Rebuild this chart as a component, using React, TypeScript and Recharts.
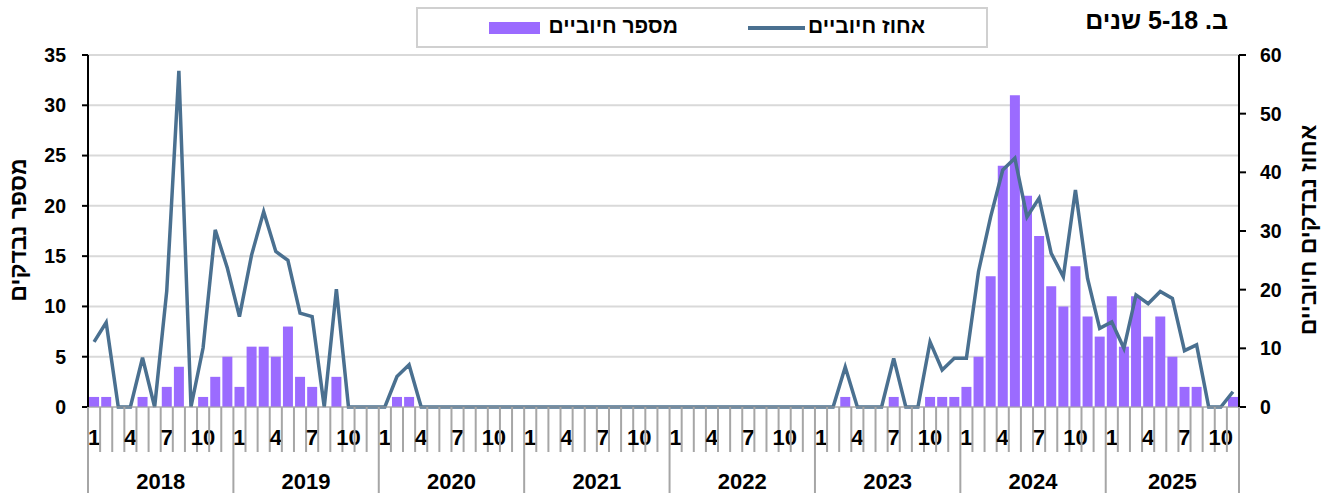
import { ComposedChart, Bar, Line, XAxis, YAxis, CartesianGrid } from 'recharts';

const W = 1326;
const H = 493;
const LEFT_W = 88;
const RIGHT_W = 87;
const X_H = 86;
const TOP = 55;
const FONT = '"Liberation Sans", Arial, sans-serif';

const years = [2018, 2019, 2020, 2021, 2022, 2023, 2024, 2025];
const monthsInYear = [12, 12, 12, 12, 12, 12, 12, 11];
const labelledMonths = [1, 4, 7, 10];

// number of positives per month, Jan 2018 .. Nov 2025
const positiveCounts = [
  1, 1, 0, 0, 1, 0, 2, 4, 0, 1, 3, 5, // 2018
  2, 6, 6, 5, 8, 3, 2, 0, 3, 0, 0, 0, // 2019
  0, 1, 1, 0, 0, 0, 0, 0, 0, 0, 0, 0, // 2020
  0, 0, 0, 0, 0, 0, 0, 0, 0, 0, 0, 0, // 2021
  0, 0, 0, 0, 0, 0, 0, 0, 0, 0, 0, 0, // 2022
  0, 0, 1, 0, 0, 0, 1, 0, 0, 1, 1, 1, // 2023
  2, 5, 13, 24, 31, 21, 17, 12, 10, 14, 9, 7, // 2024
  11, 6, 11, 7, 9, 5, 2, 2, 0, 0, 1, // 2025
];

// percent of tested that were positive
const positivePercent = [
  11.1, 14.4, 0, 0, 8.4, 0, 19.8, 57.3, 0, 10.1, 30.2, 23.7, // 2018
  15.4, 25.9, 33.3, 26.5, 25.0, 16.0, 15.4, 0, 20.1, 0, 0, 0, // 2019
  0, 5.2, 7.2, 0, 0, 0, 0, 0, 0, 0, 0, 0, // 2020
  0, 0, 0, 0, 0, 0, 0, 0, 0, 0, 0, 0, // 2021
  0, 0, 0, 0, 0, 0, 0, 0, 0, 0, 0, 0, // 2022
  0, 0, 6.8, 0, 0, 0, 8.3, 0, 0, 11.1, 6.3, 8.3, // 2023
  8.3, 23.1, 32.4, 40.4, 42.4, 32.4, 35.6, 26.2, 22.2, 37.0, 21.9, 13.4, // 2024
  14.5, 10.0, 19.1, 17.6, 19.7, 18.5, 9.6, 10.6, 0, 0, 2.6, // 2025
];

const leftTicks = [0, 5, 10, 15, 20, 25, 30, 35];
const rightTicks = [0, 10, 20, 30, 40, 50, 60];

const data: { key: string; year: number; month: number; yearLen: number; count: number; pct: number }[] = [];
years.forEach((year, yi) => {
  for (let m = 1; m <= monthsInYear[yi]; m++) {
    const i = data.length;
    data.push({
      key: `${year}-${m}`,
      year,
      month: m,
      yearLen: monthsInYear[yi],
      count: positiveCounts[i],
      pct: positivePercent[i],
    });
  }
});
const byKey: Record<string, number> = {};
data.forEach((d, i) => (byKey[d.key] = i));

const GRAY = '#a6a6a6';

function MonthTick(props: any) {
  const { x, payload } = props;
  const i = byKey[payload.value];
  const d = data[i];
  if (!d) return null;
  const bw = (W - LEFT_W - RIGHT_W) / data.length;
  const top = H - X_H;
  const left = x - bw / 2;
  const isLast = i === data.length - 1;
  return (
    <g>
      <line x1={left} x2={left} y1={top} y2={d.month === 1 ? H : top + 45} stroke={GRAY} strokeWidth={2} />
      {isLast && <line x1={x + bw / 2} x2={x + bw / 2} y1={top} y2={H} stroke={GRAY} strokeWidth={2} />}
      {labelledMonths.includes(d.month) && (
        <text x={x} y={top + 38} textAnchor="middle" fontSize={22} fontWeight="bold" fontFamily={FONT} fill="#000">
          {d.month}
        </text>
      )}
      {d.month === 1 && (
        <text x={left + (d.yearLen * bw) / 2} y={top + 82} textAnchor="middle" fontSize={22} fontWeight="bold" fontFamily={FONT} fill="#000">
          {d.year}
        </text>
      )}
    </g>
  );
}

const tickStyle = { fill: '#000', fontSize: 19.5, fontWeight: 'bold', fontFamily: FONT };

export default function App() {
  return (
    <div style={{ position: 'absolute', left: 0, top: 0, width: W, height: H, background: '#fff' }}>
      <ComposedChart
        width={W}
        height={H}
        data={data}
        margin={{ top: TOP, right: 0, bottom: 0, left: 0 }}
        barCategoryGap="9%"
      >
        <CartesianGrid yAxisId="left" vertical={false} stroke="#d9d9d9" strokeWidth={2} />
        <XAxis
          dataKey="key"
          height={X_H}
          interval={0}
          tickLine={false}
          axisLine={{ stroke: GRAY, strokeWidth: 1 }}
          tick={<MonthTick />}
        />
        <YAxis
          yAxisId="left"
          domain={[0, 35]}
          ticks={leftTicks}
          width={LEFT_W}
          axisLine={{ stroke: '#000', strokeWidth: 2 }}
          tickLine={{ stroke: '#000', strokeWidth: 2 }}
          tickSize={6}
          tickMargin={16}
          tick={tickStyle}
        />
        <YAxis
          yAxisId="right"
          orientation="right"
          domain={[0, 60]}
          ticks={rightTicks}
          width={RIGHT_W}
          axisLine={{ stroke: '#000', strokeWidth: 2 }}
          tickLine={{ stroke: '#000', strokeWidth: 2 }}
          tickSize={7}
          tickMargin={14}
          tick={tickStyle}
        />
        <Bar yAxisId="left" dataKey="count" fill="#9b6bff" isAnimationActive={false} />
        <Line
          yAxisId="right"
          dataKey="pct"
          type="linear"
          stroke="#4a7090"
          strokeWidth={3.5}
          dot={false}
          activeDot={false}
          isAnimationActive={false}
        />
      </ComposedChart>

      <svg width={W} height={H} style={{ position: 'absolute', left: 0, top: 0, pointerEvents: 'none' }}>
        <text
          x={18}
          y={230}
          transform="rotate(-90 18 230)"
          textAnchor="middle"
          dominantBaseline="central"
          fontSize={23}
          fontWeight="bold"
          fontFamily={FONT}
          direction="rtl"
        >
          מספר נבדקים
        </text>
        <text
          x={1308}
          y={230}
          transform="rotate(-90 1308 230)"
          textAnchor="middle"
          dominantBaseline="central"
          fontSize={23}
          fontWeight="bold"
          fontFamily={FONT}
          direction="rtl"
        >
          אחוז נבדקים חיוביים
        </text>
      </svg>

      <div
        dir="rtl"
        style={{
          position: 'absolute',
          right: W - 1228,
          top: 6,
          fontFamily: FONT,
          fontWeight: 'bold',
          fontSize: 25,
          whiteSpace: 'nowrap',
        }}
      >
        ב. 5-18 שנים
      </div>

      <div
        style={{
          position: 'absolute',
          left: 416,
          top: 7,
          width: 572,
          height: 41,
          boxSizing: 'border-box',
          border: '2px solid #d0d0d0',
          background: '#fff',
        }}
      />
      <div style={{ position: 'absolute', left: 748, top: 26, width: 57, height: 4, background: '#4a7090' }} />
      <div
        dir="rtl"
        style={{ position: 'absolute', right: W - 925, top: 14, fontFamily: FONT, fontWeight: 'bold', fontSize: 21, whiteSpace: 'nowrap' }}
      >
        אחוז חיוביים
      </div>
      <div style={{ position: 'absolute', left: 489, top: 22, width: 51, height: 12, background: '#9b6bff' }} />
      <div
        dir="rtl"
        style={{ position: 'absolute', right: W - 678, top: 14, fontFamily: FONT, fontWeight: 'bold', fontSize: 21, whiteSpace: 'nowrap' }}
      >
        מספר חיוביים
      </div>
    </div>
  );
}
